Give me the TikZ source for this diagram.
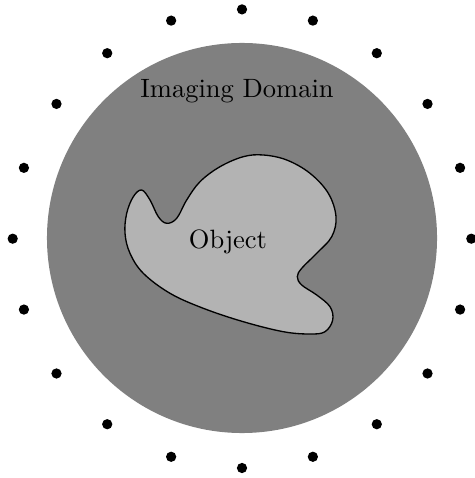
\documentclass[tikz,border=0pt]{standalone}
\usepackage{tikz}
\usetikzlibrary{positioning}
\definecolor{domaingray}{RGB}{128, 128, 128}
\definecolor{objectgray}{RGB}{179, 179, 179}

\begin{document}
\begin{tikzpicture}[
  x=0.01326cm, y=-0.01326cm,
  imgdomain/.style={fill=domaingray, draw=none},
  object/.style={fill=objectgray, draw=black, line width=0.5pt},
  sensor/.style={fill=black, draw=none},
  lbl/.style={font=\normalsize, text=black, inner sep=1pt}
]
  \useasboundingbox (0,0) rectangle (474,478);

  % Imaging domain
  \fill[imgdomain] (242,238) circle[radius=2.586cm];
  \node[lbl] (dom) at (237,91) {Imaging Domain};

  % Object
  \draw[object] plot[smooth cycle, tension=0.6] coordinates {
    (141.7,190) (150,200) (158.3,216.7) (166.7,223.3) (176.7,218.3)
    (186.7,200) (200,181.7) (220,166.7) (243.3,156.7) (263.3,155)
    (286.7,160) (310,173.3) (328.3,193.3) (336,216.7) (331.7,236.7)
    (316.7,253.3) (301.7,268.3) (297.3,276.7) (301.7,285) (316.7,295)
    (330,306.7) (332.7,320) (325,331.7) (310,334) (283.3,331.7)
    (243.3,321.7) (203.3,308.3) (170,293.3) (143.3,273.3) (130,253.3)
    (125,233.3) (126.7,213.3) (133.3,196.7)};
  \node[lbl] (obj) at (228,242) {Object};

  % Sensors
  \foreach \a in {0,18,...,342}
    \fill[sensor] ({242+229.3*cos(\a)},{238.7+229.3*sin(\a)}) circle[radius=0.068cm];
\end{tikzpicture}
\end{document}
